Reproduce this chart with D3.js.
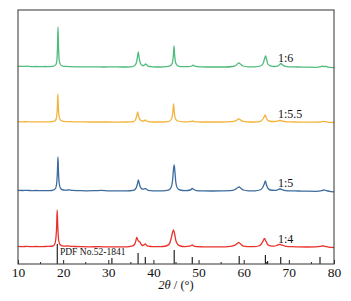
<!DOCTYPE html>
<html><head><meta charset="utf-8">
<script src="https://cdn.jsdelivr.net/npm/d3@7"></script>
<style>body{margin:0;background:#fff}</style>
</head><body><svg id="c" width="351" height="301"></svg>
<script>
// ---- data ----
const seriesNames = ["1:4", "1:5", "1:5.5", "1:6"];
const seriesColors = ["#e8322c", "#3d6b9e", "#f4b43c", "#4fbb7c"];
const seriesOffsets = [17, 73, 142, 197];   // stacking offset (a.u.)
const xTicks = [10, 20, 30, 40, 50, 60, 70, 80];
const xMinorTicks = [15, 25, 35, 45, 55, 65, 75];
const pdfLabel = "PDF No.52-1841";
const pdfPos = [18.7, 30.8, 36.6, 38.2, 44.6, 48.6, 59.0, 64.8, 65.3, 68.2, 76.9];
const pdfInt = [100, 30, 55, 35, 70, 35, 40, 45, 15, 35, 35];

const s14 = [[10,0.6],[11,0.4],[12,0.6],[13,0.3],[14,0.5],[15,0.3],[16,0.5],[17,0.6],[17.7,1],[18.1,2.5],[18.35,7],[18.55,20],[18.68,37],[18.82,20],[19.0,7],[19.3,2.5],[19.8,1.2],[20.5,0.8],[21,1.2],[21.5,0.8],[22.5,0.5],[24,0.3],[26,0.2],[28,0.3],[30,0.1],[32,0.2],[34,0.2],[35.2,0.8],[35.8,2.5],[36.1,6],[36.3,9.5],[36.55,7],[36.8,5.5],[37.0,5],[37.3,2.5],[37.7,1.5],[38.0,2.5],[38.2,3],[38.4,2],[38.8,0.8],[40,0.3],[41.5,0.3],[42.8,1],[43.5,3],[43.9,8],[44.2,14],[44.45,17],[44.7,13],[45.0,6],[45.4,2.5],[46,1],[47,0.4],[48,0.8],[48.4,1.6],[48.6,2],[48.9,1.2],[49.5,0.4],[51,0.2],[53,0.1],[55,0.1],[56.5,0.3],[57.6,1.2],[58.3,2.5],[58.7,4],[58.9,4.5],[59.2,3.5],[59.8,1.2],[60.8,0.4],[62.3,0.3],[63.3,1],[63.9,3],[64.3,6],[64.6,8.5],[64.9,6],[65.3,2.5],[65.9,1.2],[66.7,0.8],[67.3,1.5],[67.7,2.4],[68.0,2.5],[68.3,2.2],[68.8,1.5],[69.5,0.6],[70.5,0.3],[72,0.1],[74,0],[76,0.1],[77.0,0.6],[77.5,1],[78.0,0.7],[78.6,0.2],[79.3,-0.4],[80,-0.5]];

const s15 = [[10,0.6],[11,0.5],[12,0.6],[13,0.4],[14,0.5],[15,0.3],[16,0.4],[17,0.4],[17.8,0.9],[18.3,2.5],[18.55,7],[18.72,18],[18.85,34],[18.98,18],[19.15,7],[19.45,2.5],[20,1],[20.8,0.8],[21.3,1.2],[22,0.6],[23.5,0.4],[25,0.2],[27,0.3],[28.5,0.6],[30,0.2],[32,0.1],[34,0.1],[35.5,0.6],[36.1,2.5],[36.45,7],[36.65,11],[36.85,8],[37.1,4],[37.5,2],[37.9,1.8],[38.2,2.5],[38.4,2],[38.8,0.7],[40,0.2],[42,0.1],[43.3,0.8],[43.9,3.5],[44.25,11],[44.45,22],[44.6,26],[44.75,20],[44.95,9],[45.3,3],[45.9,1],[47,0.3],[48.2,1],[48.6,2.5],[48.9,1.6],[49.5,0.4],[51,0.1],[53,0],[55,0.1],[57,0.3],[58.1,1.5],[58.7,3.5],[59.0,4],[59.3,3],[59.9,1],[61,0.2],[62.5,0.2],[63.6,1],[64.2,3.5],[64.55,7],[64.8,10],[65.05,6],[65.4,2.5],[65.9,1],[66.8,0.6],[67.5,1.2],[67.9,2],[68.2,2],[68.6,1.2],[69.3,0.4],[70.5,0.1],[72,0],[74,-0.2],[76,-0.3],[77.3,0.4],[77.7,1],[78.1,0.6],[78.6,0],[79.3,-0.6],[80,-0.8]];

const s155 = [[10,0.3],[11,0.2],[12,0.3],[13,0.1],[14,0.2],[15,0.1],[16,0.2],[17,0.2],[17.9,0.6],[18.35,2],[18.58,6],[18.72,15],[18.82,28],[18.94,15],[19.1,6],[19.4,2],[20,0.6],[21,0.4],[22.5,0.2],[24,0.1],[26,0],[28,0],[30,0],[32,-0.1],[34,0],[35.5,0.4],[36.0,2],[36.3,6],[36.5,10],[36.7,6],[37.0,2.5],[37.5,1],[37.9,1],[38.2,2],[38.4,1.4],[38.8,0.4],[40,0],[42,0],[43.4,0.6],[44.0,3],[44.3,10],[44.47,18],[44.62,10],[44.9,3],[45.4,1],[46.5,0.2],[48.2,0.4],[48.7,1],[49.1,0.4],[50.5,0],[53,0],[55,0],[57.3,0.3],[58.3,1.4],[58.8,2.8],[59.0,3],[59.3,2],[59.9,0.6],[61.5,0],[63,0.2],[63.9,1.2],[64.4,4],[64.75,7],[65.0,4],[65.4,1.4],[66.2,0.5],[67.3,0.7],[67.9,1.5],[68.2,1.5],[68.6,0.8],[69.5,0.2],[71,0],[73,-0.1],[75,-0.2],[77,0],[77.6,0.6],[78.1,0.3],[78.8,-0.3],[80,-0.5]];

const s16 = [[10,0.8],[11,0.6],[12,0.8],[13,0.4],[14,0.5],[15,0.3],[16,0.5],[17,0.4],[17.9,0.8],[18.4,2.5],[18.62,7],[18.75,20],[18.86,40],[18.98,20],[19.12,7],[19.4,2.5],[19.9,0.9],[20.6,0.6],[21.5,0.4],[23,0.2],[25,0.1],[27,0.2],[29,0],[31,0.1],[33,0],[35,0.2],[35.8,1.2],[36.2,4],[36.5,11],[36.65,15],[36.8,10],[37.1,4],[37.5,1.5],[37.9,1.5],[38.25,3],[38.45,2.5],[38.8,0.8],[39.8,0.2],[41.5,0],[42.8,0.3],[43.7,1.2],[44.2,4],[44.42,12],[44.56,21],[44.7,12],[44.95,4],[45.4,1.2],[46.5,0.3],[47.8,0.3],[48.5,1],[48.85,1.8],[49.2,0.8],[50.2,0.1],[52,0],[54,0],[56,0],[57.5,0.5],[58.3,1.8],[58.75,3.5],[58.95,4],[59.25,3],[59.8,1],[61,0.2],[62.5,0.2],[63.7,1],[64.3,3.5],[64.6,8],[64.85,11],[65.05,8],[65.35,3],[65.9,1.2],[66.8,0.5],[67.5,0.8],[68.0,2.8],[68.25,3.5],[68.5,2.5],[69.1,0.8],[70,0.1],[72,0],[74,-0.2],[76,-0.3],[77.1,0.3],[77.4,0.9],[77.7,0.4],[78.0,0.9],[78.3,0.3],[79,-0.4],[80,-0.6]];

const seriesData = [s14, s15, s155, s16];

// ---- layout ----
const W = 351, H = 301;
const m = {left: 18, top: 10, right: 17, bottom: 37};
const svg = d3.select("#c");
const x = d3.scaleLinear().domain([10, 80]).range([m.left, W - m.right]);
const y = d3.scaleLinear().domain([0, 254]).range([H - m.bottom, m.top]);
const yPdf = d3.scaleLinear().domain([0, 100]).range([H - m.bottom, H - m.bottom - 20]);
const serif = "'Liberation Serif','Times New Roman',serif";

// PDF reference sticks
svg.append("g").selectAll("line").data(pdfPos).join("line")
  .attr("x1", d => x(d)).attr("x2", d => x(d))
  .attr("y1", yPdf(0)).attr("y2", (d, i) => yPdf(pdfInt[i]))
  .attr("stroke", "#111").attr("stroke-width", 1.1);

// series
const line = d3.line().x(d => x(d[0])).y(d => d[1]).curve(d3.curveMonotoneX);
seriesData.forEach((s, i) => {
  svg.append("path")
    .attr("d", line(s.map(p => [p[0], y(p[1] + seriesOffsets[i])])))
    .attr("fill", "none").attr("stroke", seriesColors[i])
    .attr("stroke-width", 1.3).attr("stroke-linejoin", "round");
});

// series labels
const labelDy = [4, 4, 4.5, 5];
seriesNames.forEach((n, i) => {
  svg.append("text").attr("x", x(67.6)).attr("y", y(seriesOffsets[i] + labelDy[i]))
    .attr("font-family", serif).attr("font-size", 12).attr("fill", "#111").text(n);
});

svg.append("text").attr("x", x(19.3)).attr("y", H - m.bottom - 8.7)
  .attr("font-family", serif).attr("font-size", 9.5).attr("fill", "#111").text(pdfLabel);

// axis
const ax = svg.append("g").attr("transform", `translate(0,${H - m.bottom})`)
  .call(d3.axisBottom(x).tickValues(xTicks).tickFormat(d3.format("d"))
    .tickSizeInner(-4).tickSizeOuter(0).tickPadding(3.5));
ax.select(".domain").remove();
ax.selectAll("line").attr("stroke", "#222");
ax.selectAll("text").attr("font-family", serif).attr("font-size", 13.5).attr("fill", "#111");
svg.append("g").selectAll("line").data(xMinorTicks).join("line")
  .attr("x1", d => x(d)).attr("x2", d => x(d))
  .attr("y1", H - m.bottom).attr("y2", H - m.bottom - 2)
  .attr("stroke", "#222");

// frame
svg.append("rect").attr("x", m.left).attr("y", m.top)
  .attr("width", W - m.left - m.right).attr("height", H - m.top - m.bottom)
  .attr("fill", "none").attr("stroke", "#444").attr("stroke-width", 1.1);

// axis title
const t = svg.append("text").attr("x", (m.left + W - m.right) / 2).attr("y", 288.5)
  .attr("text-anchor", "middle").attr("font-family", serif).attr("font-size", 12.5).attr("fill", "#111");
t.append("tspan").attr("font-style", "italic").text("2θ");
t.append("tspan").text(" / (°)");
</script></body></html>
